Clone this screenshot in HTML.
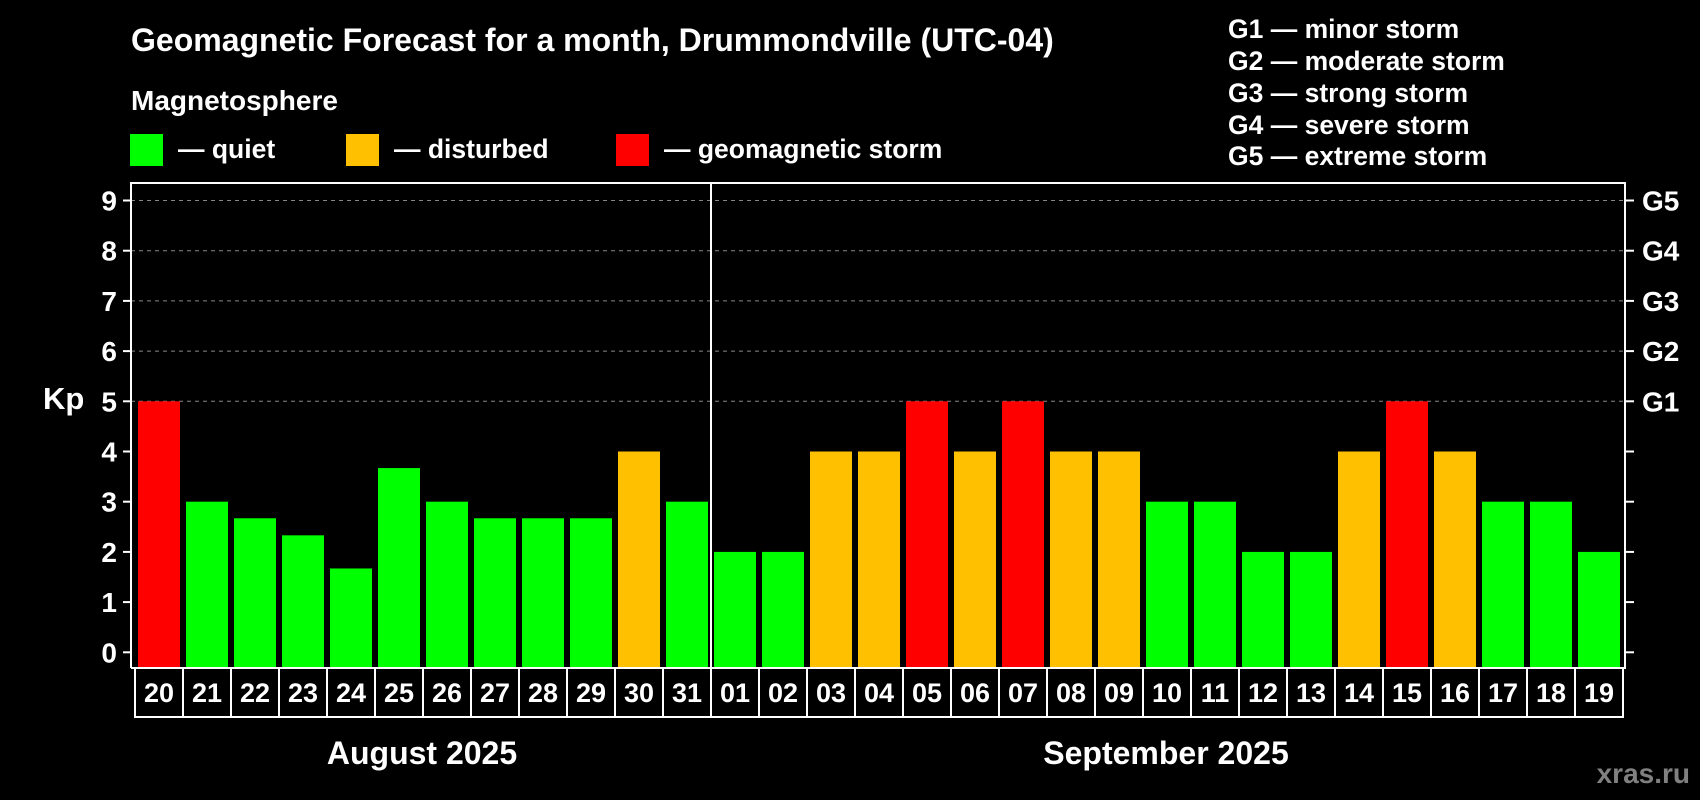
<!DOCTYPE html>
<html><head><meta charset="utf-8"><style>
html,body{margin:0;padding:0;background:#000;}
svg{display:block;font-family:"Liberation Sans",Arial,sans-serif;font-weight:bold;}
</style></head><body>
<svg id="chart" width="1700" height="800" viewBox="0 0 1700 800">
<text x="131" y="51" font-size="32" fill="#fff">Geomagnetic Forecast for a month, Drummondville (UTC-04)</text>
<text x="131" y="110" font-size="28" fill="#fff">Magnetosphere</text>
<g><rect x="130" y="134" width="33" height="32" fill="#00ff00"/><text x="178" y="158" font-size="26.5" fill="#fff">— quiet</text></g>
<g><rect x="346" y="134" width="33" height="32" fill="#ffc000"/><text x="394" y="158" font-size="26.5" fill="#fff">— disturbed</text></g>
<g><rect x="616" y="134" width="33" height="32" fill="#ff0000"/><text x="664" y="158" font-size="26.5" fill="#fff">— geomagnetic storm</text></g>
<g font-size="26.5" fill="#fff">
<text x="1228" y="38">G1 — minor storm</text>
<text x="1228" y="70">G2 — moderate storm</text>
<text x="1228" y="102">G3 — strong storm</text>
<text x="1228" y="134">G4 — severe storm</text>
<text x="1228" y="165">G5 — extreme storm</text>
</g>
<text x="43" y="409" font-size="31" fill="#fff">Kp</text>
<g id="grid"></g><g id="bars"></g><g id="axes"></g>
<text x="422" y="764" font-size="32" fill="#fff" text-anchor="middle">August 2025</text>
<text x="1166" y="764" font-size="32" fill="#fff" text-anchor="middle">September 2025</text>
<text x="1690" y="783" font-size="28" fill="#808080" text-anchor="end">xras.ru</text>
</svg>
<script>
const days = ["20","21","22","23","24","25","26","27","28","29","30","31","01","02","03","04","05","06","07","08","09","10","11","12","13","14","15","16","17","18","19"];
const kpValues = [5,3,2.67,2.33,1.67,3.67,3,2.67,2.67,2.67,4,3,2,2,4,4,5,4,5,4,4,3,3,2,2,4,5,4,3,3,2];
const yTicks = [0,1,2,3,4,5,6,7,8,9];
const gLabels = ["G1","G2","G3","G4","G5"];
const gLevels = [5,6,7,8,9];
const monthSplitIndex = 12;

const NS="http://www.w3.org/2000/svg";
const plotL=131, plotR=1625, plotT=183, plotB=668;
const cellL=135, cellW=48, rowB=717;
const y0=652.3, unit=50.2;
const yScale=v=>y0-v*unit;
const xCell=i=>cellL+i*cellW;
function mk(tag,attrs,parent){const e=document.createElementNS(NS,tag);for(const k in attrs)e.setAttribute(k,attrs[k]);parent.appendChild(e);return e;}
const grid=document.getElementById('grid'),bars=document.getElementById('bars'),axes=document.getElementById('axes');
yTicks.forEach(t=>{
  if(t>=5){const g=mk('line',{x1:plotL,x2:plotR,y1:yScale(t),y2:yScale(t),stroke:'#888','stroke-width':1,'stroke-dasharray':'4,4'},grid);
  
  }
  const tl=mk('line',{x1:plotL-8,x2:plotL,y1:yScale(t),y2:yScale(t),stroke:'#fff','stroke-width':2},axes);
  
  
  const tr=mk('line',{x1:plotR,x2:plotR+9,y1:yScale(t),y2:yScale(t),stroke:'#fff','stroke-width':2},axes);
  
  
  const lb=mk('text',{x:plotL-14,y:yScale(t)+10,'font-size':28,fill:'#fff','text-anchor':'end'},axes);
  lb.textContent=t;
  
  
});
gLabels.forEach((g,i)=>{
  const t=mk('text',{x:1642,y:yScale(gLevels[i])+10,'font-size':28,fill:'#fff'},axes);
  t.textContent=g;
  
  
});
kpValues.forEach((v,i)=>{
  const c=v>=5?'#ff0000':(v>=4?'#ffc000':'#00ff00');
  const top=yScale(v);
  const r=mk('rect',{x:xCell(i)+3,y:top,width:42,height:plotB-1-top,fill:c},bars);
  
  
  const cell=mk('rect',{x:xCell(i),y:plotB,width:cellW,height:rowB-plotB,fill:'none',stroke:'#fff','stroke-width':2},axes);
  
  
  const t=mk('text',{x:xCell(i)+cellW/2,y:plotB+34,'font-size':27,fill:'#fff','text-anchor':'middle'},axes);
  t.textContent=days[i];
  
  
});
const fr=mk('path',{d:`M${plotL},${plotB} V${plotT} H${plotR} V${plotB} H${plotL}`,fill:'none',stroke:'#fff','stroke-width':2},axes);


const sep=mk('line',{x1:xCell(monthSplitIndex),x2:xCell(monthSplitIndex),y1:plotT,y2:plotB,stroke:'#fff','stroke-width':2},axes);


</script>
</body></html>
